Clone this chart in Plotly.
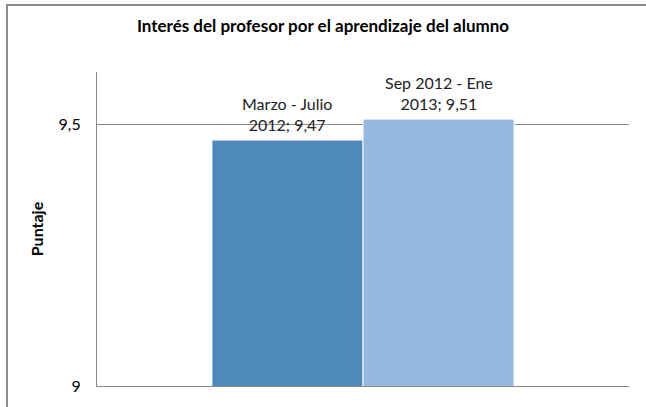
import plotly.graph_objects as go

title = "Interés del profesor por el aprendizaje del alumno"
category = [""]
series_names = ["Marzo - Julio 2012", "Sep 2012 - Ene 2013"]
series_values = [9.47, 9.51]
label_texts = ["Marzo - Julio<br>2012; 9,47", "Sep 2012 - Ene<br>2013; 9,51"]
colors = ["#4F88BB", "#98B9DF"]
y_ticks = [9, 9.5]
y_tick_labels = ["9", "9,5"]

FONT = "Lato, Open Sans, sans-serif"

fig = go.Figure()
for name, val, col in zip(series_names, series_values, colors):
    fig.add_trace(go.Bar(
        x=[0], y=[val], name=name,
        marker=dict(color=col, line=dict(color="white", width=1)),
    ))

W, H = 646, 407
L, R, T, B = 97, 17, 72, 19
bargap = 0.432

group_w = 1 - bargap
offsets = [-group_w / 4, group_w / 4]
annotations = []
for off, val, lab in zip(offsets, series_values, label_texts):
    annotations.append(dict(
        x=off, xref="x", y=val, yref="y", text=lab, showarrow=False,
        xanchor="center", yanchor="bottom", yshift=4,
        font=dict(family=FONT, size=16, color="#222"),
    ))

fig.update_layout(
    width=W, height=H,
    margin=dict(l=L, r=R, t=T, b=B),
    paper_bgcolor="white", plot_bgcolor="white",
    barmode="group", bargap=bargap, bargroupgap=0,
    showlegend=False,
    annotations=annotations,
    title=dict(text="<b>" + title + "</b>", x=0.5, xanchor="center",
               y=1 - 26 / H, yanchor="middle",
               font=dict(family=FONT, size=17, color="#000")),
    xaxis=dict(type="linear", range=[-0.5, 0.5], showticklabels=False,
               showgrid=False, zeroline=False,
               showline=True, linecolor="#888", linewidth=1, ticks=""),
    yaxis=dict(range=[9, 9.6], tickvals=y_ticks, ticktext=y_tick_labels,
               showgrid=True, gridcolor="#888", gridwidth=1,
               zeroline=False, showline=True, linecolor="#888", linewidth=1,
               ticks="", ticklen=0, ticklabelstandoff=12,
               tickfont=dict(family=FONT, size=16, color="#000"),
               title=dict(text="<b>Puntaje</b>", standoff=10,
                          font=dict(family=FONT, size=16, color="#000"))),
)

border_js = (
    "document.body.style.margin='0';"
    "document.body.style.overflow='hidden';"
    "var b=document.createElement('div');"
    "b.style.cssText='position:fixed;left:6px;top:4px;width:800px;height:800px;"
    "border-left:2px solid #8c8c8c;border-top:2px solid #8c8c8c;"
    "pointer-events:none;z-index:10;';"
    "document.body.appendChild(b);"
)

fig.write_html("out.html", config={"displayModeBar": False}, post_script=border_js)
